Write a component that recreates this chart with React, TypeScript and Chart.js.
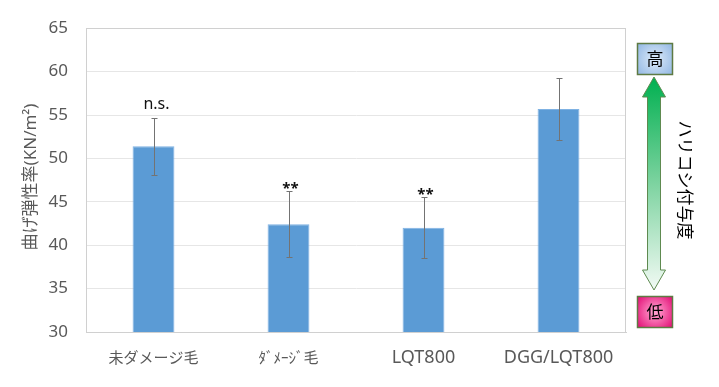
import React, { useEffect, useRef } from "react";
import { Chart, registerables } from "chart.js";

Chart.register(...registerables);

const categories = ["未ダメージ毛", "ﾀﾞﾒｰｼﾞ毛", "LQT800", "DGG/LQT800"];
const means = [51.4, 42.4, 42.0, 55.7];
const errors = [3.3, 3.8, 3.5, 3.6];
const marks = ["n.s.", "**", "**", ""];
const yTitle = "曲げ弾性率(KN/m²)";
const sideText = "ハリコシ付与度";
const highLabel = "高";
const lowLabel = "低";

const FONT = '"Noto Sans", "Noto Sans CJK JP", sans-serif';

const decoPlugin = {
  id: "deco",
  afterDatasetsDraw(chart: any) {
    const ctx = chart.ctx as CanvasRenderingContext2D;
    const y = chart.scales.y;
    const meta = chart.getDatasetMeta(0);
    const area = chart.chartArea;
    ctx.save();
    // plot border
    ctx.strokeStyle = "#d0d0d0";
    ctx.lineWidth = 1;
    ctx.strokeRect(Math.round(area.left) + 0.5, Math.round(area.top) + 0.5, Math.round(area.right - area.left) - 1, Math.round(area.bottom - area.top));
    // error bars
    ctx.strokeStyle = "#737373";
    ctx.lineWidth = 1;
    meta.data.forEach((bar: any, i: number) => {
      const x = Math.round(bar.x) + 0.5;
      const yt = Math.round(y.getPixelForValue(means[i] + errors[i])) + 0.5;
      const yb = Math.round(y.getPixelForValue(means[i] - errors[i])) + 0.5;
      ctx.beginPath();
      ctx.moveTo(x, yt);
      ctx.lineTo(x, yb);
      ctx.moveTo(x - 3, yt);
      ctx.lineTo(x + 3, yt);
      ctx.moveTo(x - 3, yb);
      ctx.lineTo(x + 3, yb);
      ctx.stroke();
      if (marks[i]) {
        ctx.fillStyle = "#111";
        ctx.textAlign = "center";
        ctx.textBaseline = "alphabetic";
        if (marks[i] === "**") {
          ctx.font = "bold 15px " + FONT;
          ctx.fillText(marks[i], x + 1, yt + 1);
        } else {
          ctx.font = "16px " + FONT;
          ctx.fillText(marks[i], x + 2, yt - 10);
        }
      }
    });
    // y title
    ctx.save();
    ctx.translate(31, 177);
    ctx.rotate(-Math.PI / 2);
    ctx.fillStyle = "#595959";
    ctx.font = "17px " + FONT;
    ctx.textAlign = "center";
    ctx.textBaseline = "middle";
    ctx.fillText(yTitle, 0, 0);
    ctx.restore();

    // side boxes
    const drawBox = (x0: number, y0: number, w: number, h: number, inner: string, outer: string, label: string) => {
      const g = ctx.createRadialGradient(x0 + w / 2, y0 + h / 2, 2, x0 + w / 2, y0 + h / 2, w * 0.7);
      g.addColorStop(0, inner);
      g.addColorStop(1, outer);
      ctx.fillStyle = g;
      ctx.fillRect(x0, y0, w, h);
      ctx.strokeStyle = "#5e7a43";
      ctx.lineWidth = 1.5;
      ctx.strokeRect(x0, y0, w, h);
      ctx.fillStyle = "#000";
      ctx.font = "17px " + FONT;
      ctx.textAlign = "center";
      ctx.textBaseline = "middle";
      ctx.fillText(label, x0 + w / 2, y0 + h / 2 + 1);
    };
    drawBox(637.5, 43.5, 35, 31, "#d6e6f7", "#8db4e2", highLabel);
    drawBox(637.5, 296.5, 35, 31, "#ff9ccc", "#e0006e", lowLabel);

    // double arrow
    const cx = 654;
    const top = 77, bot = 290, headH = 20, headW = 11.5, shaftW = 6.5;
    ctx.beginPath();
    ctx.moveTo(cx, top);
    ctx.lineTo(cx + headW, top + headH);
    ctx.lineTo(cx + shaftW, top + headH);
    ctx.lineTo(cx + shaftW, bot - headH);
    ctx.lineTo(cx + headW, bot - headH);
    ctx.lineTo(cx, bot);
    ctx.lineTo(cx - headW, bot - headH);
    ctx.lineTo(cx - shaftW, bot - headH);
    ctx.lineTo(cx - shaftW, top + headH);
    ctx.lineTo(cx - headW, top + headH);
    ctx.closePath();
    const ag = ctx.createLinearGradient(0, top, 0, bot);
    ag.addColorStop(0, "#00b050");
    ag.addColorStop(0.5, "#7dd3a0");
    ag.addColorStop(1, "#f2faf4");
    ctx.fillStyle = ag;
    ctx.fill();
    ctx.strokeStyle = "#5e8a50";
    ctx.lineWidth = 1;
    ctx.stroke();

    // vertical side text
    ctx.save();
    ctx.translate(684, 180);
    ctx.rotate(Math.PI / 2);
    ctx.fillStyle = "#000";
    ctx.font = "17px " + FONT;
    ctx.textAlign = "center";
    ctx.textBaseline = "middle";
    ctx.fillText(sideText, 0, 0);
    ctx.restore();

    ctx.restore();
  },
};

export default function App() {
  const ref = useRef<HTMLCanvasElement | null>(null);
  useEffect(() => {
    if (!ref.current) return;
    const chart = new Chart(ref.current, {
      type: "bar",
      data: {
        labels: categories,
        datasets: [
          {
            data: means,
            backgroundColor: "#5b9bd5",
            borderColor: "#7fb2e3",
            borderWidth: 1,
            barPercentage: 0.62,
            categoryPercentage: 0.5,
          },
        ],
      },
      options: {
        animation: false,
        responsive: false,
        devicePixelRatio: 1,
        layout: { padding: { left: 0, top: 24, right: 93, bottom: 0 } },
        plugins: { legend: { display: false }, tooltip: { enabled: false } },
        scales: {
          x: {
            grid: { display: false, drawTicks: false },
            border: { display: true, color: "#d0d0d0" },
            ticks: {
              color: "#595959",
              font: (c: any) =>
                /[A-Z0-9]/.test(categories[c.index] || "")
                  ? { family: FONT, size: 18, lineHeight: 1.2 }
                  : { family: FONT, size: 15, lineHeight: 1.5 },
              padding: 15,
              maxRotation: 0,
              autoSkip: false,
            },
            afterFit: (s: any) => { s.height = 55; },
          },
          y: {
            min: 30,
            max: 65,
            grid: { color: "#e6e6e6", drawTicks: false },
            border: { display: true, color: "#d0d0d0" },
            ticks: { stepSize: 5, color: "#595959", font: { family: FONT, size: 17 }, padding: 18 },
            afterFit: (s: any) => { s.width = 86; },
          },
        },
      },
      plugins: [decoPlugin],
    });
    return () => chart.destroy();
  }, []);
  return (
    <div style={{ position: "fixed", left: 0, top: 0, width: 719, height: 387, background: "#fff" }}>
      <canvas ref={ref} width={719} height={387} style={{ width: 719, height: 387 }} />
    </div>
  );
}
